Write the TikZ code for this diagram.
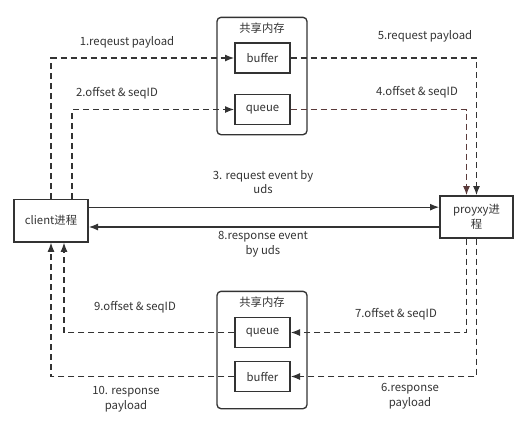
\documentclass[tikz,border=0pt]{standalone}
\usepackage{fontspec}
\setmainfont{Noto Sans CJK SC}
\usetikzlibrary{arrows.meta,positioning}
\definecolor{linegray}{HTML}{333333}
\definecolor{queuebrown}{HTML}{5A3A3A}

\begin{document}
\begin{tikzpicture}[x=0.75pt,y=-0.75pt,
    font=\fontsize{8.5}{11}\selectfont, text=linegray,
    proc/.style={draw=linegray, line width=1pt, align=center, inner sep=1pt},
    memgroup/.style={draw=linegray, line width=1pt, rounded corners=3pt, minimum width=67.5pt, minimum height=88pt},
    membox/.style={draw=linegray, line width=1pt, minimum width=41.25pt, minimum height=22.5pt},
    dashline/.style={draw=linegray, line width=1pt, dash pattern=on 4.5pt off 3pt},
    tip/.style={-{Latex[length=7pt,width=5.25pt]}}]
    \useasboundingbox (0,0) rectangle (525,430);%

    % Processes
    \node[proc, minimum width=55.5pt, minimum height=32pt] (client) at (51,220.5) {client进程};%
    \node[proc, minimum width=54.75pt, minimum height=31.5pt] (proxy) at (476.5,217) {proyxy进\\程};%

    % Shared memory, top
    \node[memgroup] (topmem) at (262,76) {};%
    \node (toptitle) at (262,28) {共享内存};%
    \node[membox] (topbuf) at (262.5,58) {buffer};%
    \node[membox] (topque) at (262.5,109.5) {queue};%

    % Shared memory, bottom
    \node[memgroup] (botmem) at (262,350) {};%
    \node (bottitle) at (262,302) {共享内存};%
    \node[membox] (botque) at (262.5,332.5) {queue};%
    \node[membox] (botbuf) at (262.5,376.5) {buffer};%

    % Request side
    \draw[dashline, tip] (client.north) |- (topbuf.west);% 1
    \draw[dashline, tip] ([xshift=15.75pt]client.north) |- (topque.west);% 2
    \draw[dashline, tip] (topbuf.east) -| (proxy.north);% 5
    \draw[dashline, draw=queuebrown, tip] (topque.east) -| ([xshift=-7.5pt]proxy.north);% 4

    % uds events
    \coordinate (reqstart) at ([yshift=10pt]client.east);%
    \coordinate (resstart) at ([yshift=-7.5pt]proxy.west);%
    \draw[draw=linegray, line width=1pt, tip] (reqstart) -- (reqstart -| proxy.west);% 3
    \draw[draw=linegray, line width=1pt, tip] (resstart) -- (resstart -| client.east);% 8

    % Response side
    \draw[dashline, tip] (proxy.south) |- (botbuf.east);% 6
    \draw[dashline, tip] ([xshift=-7.5pt]proxy.south) |- (botque.east);% 7
    \draw[dashline, tip] (botque.west) -| ([xshift=9.75pt]client.south);% 9
    \draw[dashline, tip] (botbuf.west) -| (client.south);% 10

    % Labels
    \node (lab1) at (127,42) {1.reqeust payload};%
    \node (lab2) at (117,93) {2.offset \& seqID};%
    \node (lab5) at (425,36) {5.request payload};%
    \node (lab4) at (417,92) {4.offset \& seqID};%
    \node[align=center] (lab3) at (263,182) {3. request event by\\uds};%
    \node[align=center] (lab8) at (263,244) {8.response event\\by uds};%
    \node (lab9) at (135,307) {9.offset \& seqID};%
    \node[align=center] (lab10) at (126,399) {10. response\\payload};%
    \node (lab7) at (396,314) {7.offset \& seqID};%
    \node[align=center] (lab6) at (410,396) {6.response\\payload};%
\end{tikzpicture}
\end{document}
